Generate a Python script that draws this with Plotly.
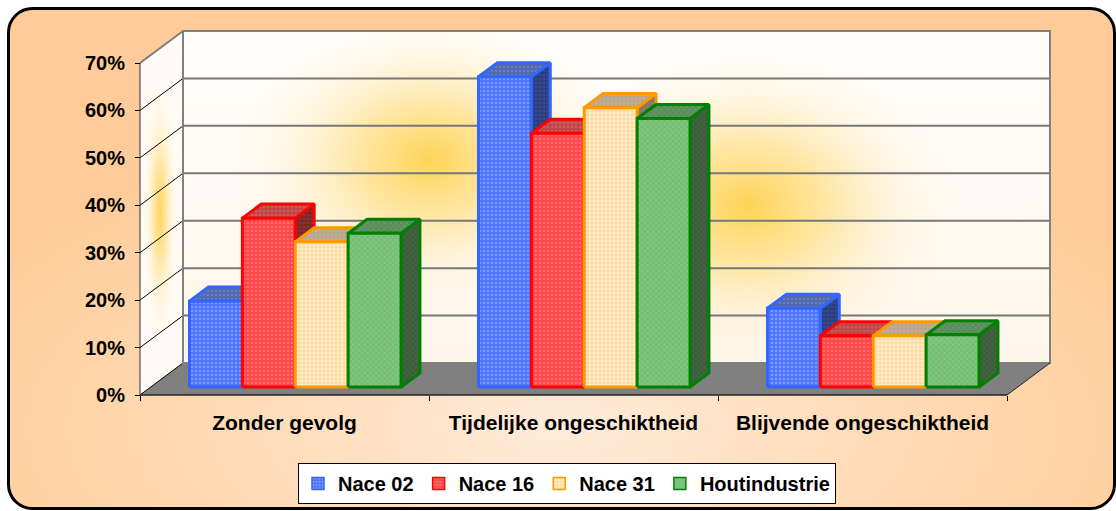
import base64
import plotly.graph_objects as go

# ---------------- data ----------------
categories = ["Zonder gevolg", "Tijdelijke ongeschiktheid", "Blijvende ongeschiktheid"]
series_names = ["Nace 02", "Nace 16", "Nace 31", "Houtindustrie"]
nace02 = [18.1, 65.4, 16.6]
nace16 = [35.6, 53.5, 10.8]
nace31 = [30.6, 58.9, 10.8]
houtindustrie = [32.4, 56.6, 11.0]
y_tick_values = [0, 10, 20, 30, 40, 50, 60, 70]
y_tick_labels = ["0%", "10%", "20%", "30%", "40%", "50%", "60%", "70%"]

series_values = [nace02, nace16, nace31, houtindustrie]

# ---------------- styles ----------------
line_colors = ["#3366FF", "#FF0000", "#FF9900", "#008000"]
front_bg = ["#4D73FF", "#FF4545", "#FFEDCB", "#74BE74"]
front_fg = ["#B3C4FF", "#FF9A9A", "#FFB347", "#A6D8A6"]
front_shape = [".", ".", "+", "x"]
top_bg = ["#5068AC", "#C04646", "#B8A48A", "#5A8C5A"]
top_fg = ["#7E90C8", "#D87070", "#D0C0A8", "#7CA87C"]
side_bg = ["#2B3F80", "#7A2828", "#857460", "#3C5C3C"]
side_fg = ["#46599A", "#9A4040", "#A09080", "#557555"]

FONT = "Liberation Sans, Arial, sans-serif"

# ---------------- geometry (pixel layout of the pseudo 3D box) ----------------
W, H = 1116, 530     # a little taller than the window; the extra strip falls outside
X0_PX = 140          # front-left corner (x = -0.5)
V0_PX = 395          # front floor (0 %)
PX_PER_CAT = 289.0
PX_PER_PCT = 332.0 / 70.0
WALL_DX = 43.0 / PX_PER_CAT      # depth of floor, in x units
WALL_DY = 32.0 / PX_PER_PCT      # depth of floor, in % units
BAR_FRONT = 0.25                 # bar front plane (fraction of depth)
BAR_DEPTH = 0.44                 # bar depth (fraction of depth)
BW = 0.183                       # bar width in category units

ML, MR, MT, MB = 130, 56, 25, 125
PW, PH = W - ML - MR, H - MT - MB
x_min = (ML - X0_PX) / PX_PER_CAT - 0.5
x_max = (W - MR - X0_PX) / PX_PER_CAT - 0.5
y_min = (V0_PX - (H - MB)) / PX_PER_PCT
y_max = (V0_PX - MT) / PX_PER_PCT
X_LEFT = -0.5
X_RIGHT = len(categories) - 0.5
V_TOP = y_tick_values[-1]


def P(x, v):
    return (X0_PX + (x + 0.5) * PX_PER_CAT, V0_PX - v * PX_PER_PCT)


def pts(seq):
    return " ".join(f"{a:.1f},{b:.1f}" for a, b in seq)


back_wall = [P(X_LEFT + WALL_DX, WALL_DY), P(X_RIGHT + WALL_DX, WALL_DY),
             P(X_RIGHT + WALL_DX, V_TOP + WALL_DY), P(X_LEFT + WALL_DX, V_TOP + WALL_DY)]
side_wall = [P(X_LEFT, 0), P(X_LEFT + WALL_DX, WALL_DY),
             P(X_LEFT + WALL_DX, V_TOP + WALL_DY), P(X_LEFT, V_TOP)]

svg = f"""<svg xmlns="http://www.w3.org/2000/svg" width="{W}" height="{H}" viewBox="0 0 {W} {H}" preserveAspectRatio="none">
<defs>
 <radialGradient id="peach" cx="0.5" cy="0.84" r="0.62">
  <stop offset="0" stop-color="#FFEBDA"/>
  <stop offset="0.5" stop-color="#FFDAB4"/>
  <stop offset="1" stop-color="#FFCC99"/>
 </radialGradient>
 <linearGradient id="wall" x1="0" y1="0" x2="0" y2="1">
  <stop offset="0" stop-color="#FFFEFC"/>
  <stop offset="1" stop-color="#FFF6EA"/>
 </linearGradient>
 <radialGradient id="glow">
  <stop offset="0" stop-color="#FFCC3A" stop-opacity="0.85"/>
  <stop offset="0.35" stop-color="#FFD766" stop-opacity="0.6"/>
  <stop offset="0.7" stop-color="#FFE7A8" stop-opacity="0.25"/>
  <stop offset="1" stop-color="#FFF0CC" stop-opacity="0"/>
 </radialGradient>
 <clipPath id="cb"><polygon points="{pts(back_wall)}"/></clipPath>
 <clipPath id="cs"><polygon points="{pts(side_wall)}"/></clipPath>
</defs>
<rect x="0" y="0" width="{W}" height="{H}" fill="#FFFFFF"/>
<rect x="8.5" y="8.5" width="1106" height="500" rx="24" ry="24" fill="url(#peach)" stroke="#000000" stroke-width="3"/>
<polygon points="{pts(back_wall)}" fill="url(#wall)"/>
<g clip-path="url(#cb)">
 <ellipse cx="430" cy="160" rx="200" ry="150" fill="url(#glow)"/>
 <ellipse cx="748" cy="205" rx="210" ry="160" fill="url(#glow)"/>
</g>
<polygon points="{pts(side_wall)}" fill="#FFFBF4"/>
<g clip-path="url(#cs)">
 <ellipse cx="160" cy="212" rx="17" ry="130" fill="url(#glow)"/>
</g>
</svg>"""
svg_uri = "data:image/svg+xml;base64," + base64.b64encode(svg.encode("utf-8")).decode("ascii")

fig = go.Figure()

# ---------------- bars as pseudo-3D boxes ----------------
n_s = len(series_names)
sx = BAR_DEPTH * WALL_DX
sy = BAR_DEPTH * WALL_DY
base = BAR_FRONT * WALL_DY
for s in range(n_s):
    faces = {"side": ([], []), "top": ([], []), "front": ([], [])}
    for c, val in enumerate(series_values[s]):
        xl = c - n_s * BW / 2 + s * BW + BAR_FRONT * WALL_DX
        xr = xl + BW
        top = base + val
        polys = {
            "side": [(xr, base), (xr + sx, base + sy), (xr + sx, top + sy), (xr, top)],
            "top": [(xl, top), (xr, top), (xr + sx, top + sy), (xl + sx, top + sy)],
            "front": [(xl, base), (xr, base), (xr, top), (xl, top)],
        }
        for k, poly in polys.items():
            xs, ys = faces[k]
            xs.extend([p[0] for p in poly] + [poly[0][0], None])
            ys.extend([p[1] for p in poly] + [poly[0][1], None])
    for k, bgc, fgc in (("side", side_bg[s], side_fg[s]),
                        ("top", top_bg[s], top_fg[s]),
                        ("front", front_bg[s], front_fg[s])):
        fig.add_trace(go.Scatter(
            x=faces[k][0], y=faces[k][1], mode="lines", fill="toself",
            fillcolor=bgc,
            fillpattern=dict(shape=front_shape[s], bgcolor=bgc, fgcolor=fgc,
                             size=4, solidity=0.35),
            line=dict(color=line_colors[s], width=3),
            hoverinfo="skip", showlegend=False, legendgroup=series_names[s],
        ))

# legend entries
for s in range(n_s):
    fig.add_trace(go.Bar(
        x=[None], y=[None], name=series_names[s], legendgroup=series_names[s],
        marker=dict(color=front_bg[s], line=dict(color=line_colors[s], width=1.5),
                    pattern=dict(shape=front_shape[s], bgcolor=front_bg[s],
                                 fgcolor=front_fg[s], size=4, solidity=0.35)),
    ))

# ---------------- walls, floor and grid ----------------
shapes = []
floor_path = (f"M {X_LEFT},0 L {X_RIGHT},0 L {X_RIGHT + WALL_DX},{WALL_DY} "
              f"L {X_LEFT + WALL_DX},{WALL_DY} Z")
shapes.append(dict(type="path", path=floor_path, xref="x", yref="y",
                   fillcolor="#808080", line=dict(width=0), layer="below"))
for v in y_tick_values:
    shapes.append(dict(type="line", xref="x", yref="y",
                       x0=X_LEFT + WALL_DX, x1=X_RIGHT + WALL_DX,
                       y0=v + WALL_DY, y1=v + WALL_DY,
                       line=dict(color="#777777", width=2), layer="below"))
    shapes.append(dict(type="line", xref="x", yref="y",
                       x0=X_LEFT, x1=X_LEFT + WALL_DX, y0=v, y1=v + WALL_DY,
                       line=dict(color="#000000", width=1), layer="below"))
# back wall border
shapes.append(dict(type="rect", xref="x", yref="y",
                   x0=X_LEFT + WALL_DX, x1=X_RIGHT + WALL_DX,
                   y0=WALL_DY, y1=V_TOP + WALL_DY,
                   line=dict(color="#808080", width=2), layer="below"))
# side wall top edge
shapes.append(dict(type="line", xref="x", yref="y", x0=X_LEFT, x1=X_LEFT + WALL_DX,
                   y0=V_TOP, y1=V_TOP + WALL_DY, line=dict(color="#808080", width=2),
                   layer="below"))
# front axis lines
shapes.append(dict(type="line", xref="x", yref="y", x0=X_LEFT, x1=X_LEFT, y0=0, y1=V_TOP,
                   line=dict(color="#333333", width=1), layer="below"))
shapes.append(dict(type="line", xref="x", yref="y", x0=X_LEFT, x1=X_RIGHT, y0=0, y1=0,
                   line=dict(color="#222222", width=1.5), layer="below"))
shapes.append(dict(type="line", xref="x", yref="y", x0=X_RIGHT, x1=X_RIGHT + WALL_DX,
                   y0=0, y1=WALL_DY, line=dict(color="#222222", width=1), layer="below"))

fig.update_layout(
    width=W, height=H,
    margin=dict(l=ML, r=MR, t=MT, b=MB),
    paper_bgcolor="rgba(0,0,0,0)", plot_bgcolor="rgba(0,0,0,0)",
    font=dict(family=FONT, size=20, color="#000000", weight="bold"),
    shapes=shapes,
    images=[dict(source=svg_uri, xref="paper", yref="paper",
                 x=-ML / PW, y=1 + MT / PH, sizex=W / PW, sizey=H / PH,
                 xanchor="left", yanchor="top", sizing="stretch", layer="below")],
    xaxis=dict(range=[x_min, x_max], showgrid=False, zeroline=False, showline=False,
               tickmode="array", tickvals=list(range(len(categories))), ticktext=categories,
               ticks="", anchor="free", position=(H - MB - V0_PX) / PH,
               ticklabelstandoff=13,
               minor=dict(tickmode="linear", tick0=X_LEFT, dtick=1, ticks="outside",
                          ticklen=5, tickcolor="#000000", tickwidth=1),
               tickfont=dict(family=FONT, size=21, color="#000000", weight="bold")),
    yaxis=dict(range=[y_min, y_max], showgrid=False, zeroline=False, showline=False,
               tickmode="array", tickvals=y_tick_values, ticktext=y_tick_labels,
               ticks="outside", ticklen=5, tickcolor="#000000", tickwidth=1,
               anchor="free", position=(X0_PX - ML) / PW, ticklabelstandoff=6,
               tickfont=dict(family=FONT, size=20, color="#000000", weight="bold")),
    showlegend=True,
    legend=dict(orientation="h", x=(567 - ML) / PW, xanchor="center",
                y=1 - (463 - MT) / PH, yanchor="top",
                bgcolor="#FFFFFF", bordercolor="#000000", borderwidth=1,
                font=dict(family=FONT, size=20, color="#000000", weight="bold"),
                itemwidth=30, tracegroupgap=0),
    bargap=0,
)

page_fix = (
    "document.body.style.margin='0';"
)
fig.write_html("out.html", config={"displayModeBar": False}, post_script=page_fix)
